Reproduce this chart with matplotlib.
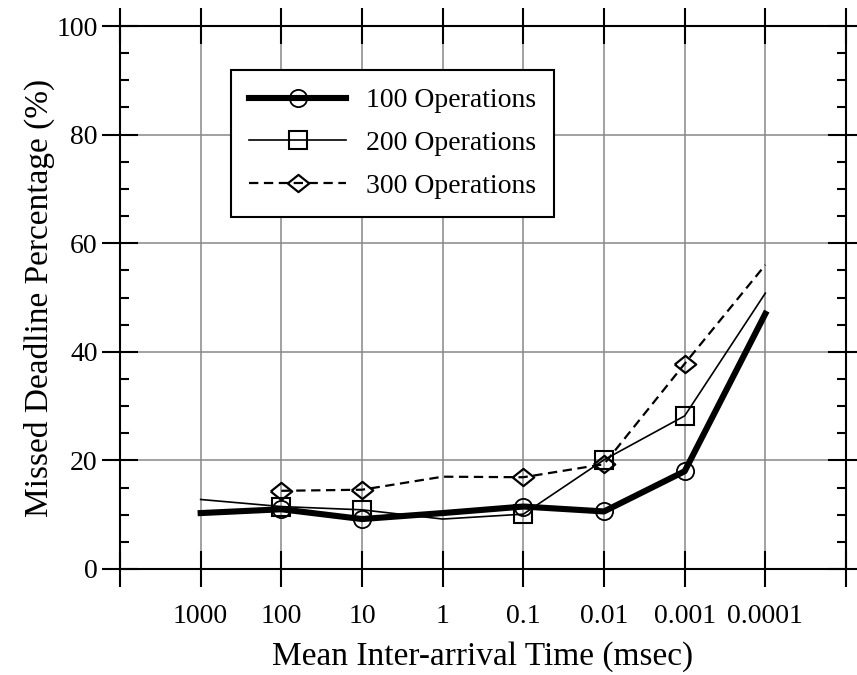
import matplotlib
matplotlib.use("Agg")
import matplotlib.pyplot as plt
import numpy as np

# mean inter-arrival time (msec), plotted on an evenly spaced category axis
arrival_times = ["1000", "100", "10", "1", "0.1", "0.01", "0.001", "0.0001"]

missed_100 = [10.3, 11.0, 9.2, 10.3, 11.5, 10.6, 18.0, 47.0]
missed_200 = [12.8, 11.5, 10.9, 9.2, 10.1, 20.1, 28.2, 50.8]
missed_300 = [np.nan, 14.4, 14.6, 17.0, 16.9, 19.3, 37.8, 56.0]

series_labels = ["100 Operations", "200 Operations", "300 Operations"]

# only these runs got a symbol on the original plot
marked = [1, 2, 4, 5, 6]

# wide, flat diamond
diamond = [(-1.0, 0.0), (0.0, 0.8), (1.0, 0.0), (0.0, -0.8), (-1.0, 0.0)]


def main():
    plt.rcParams["font.family"] = ["Liberation Serif", "DejaVu Serif"]
    fig = plt.figure(figsize=(8.57, 6.75), dpi=100)
    ax = fig.add_axes([120 / 857, 1 - 569 / 675, 726 / 857, 543 / 675])

    x = np.arange(len(arrival_times))
    ax.plot(x, missed_100, color="black", lw=4.4, marker="o", ms=12.4,
            mfc="none", mew=1.3, markevery=marked, label=series_labels[0])
    ax.plot(x, missed_200, color="black", lw=1.2, marker="s", ms=13.5,
            mfc="none", mew=1.5, markevery=marked, label=series_labels[1])
    ax.plot(x, missed_300, color="black", lw=1.6, dashes=(4.2, 2.5),
            marker=diamond, ms=15.5, mfc="none", mew=1.6,
            markevery=marked, label=series_labels[2])

    ax.set_xlim(-1, len(arrival_times))
    ax.set_ylim(0, 100)
    ax.set_xticks(np.arange(-1, len(arrival_times) + 1))
    ax.set_xticklabels([""] + arrival_times + [""])
    ax.set_yticks(np.arange(0, 101, 20))
    ax.set_yticks([v for v in range(5, 100, 5) if v % 20 != 0], minor=True)

    ax.grid(True, which="major", color="#878787", lw=1.1)
    for sp in ax.spines.values():
        sp.set_linewidth(1.5)

    ax.tick_params(which="major", direction="inout", length=26, width=1.5,
                   top=True, right=True, labelsize=20, color="black")
    ax.tick_params(axis="x", which="major", pad=12)
    ax.tick_params(axis="y", which="major", pad=3)
    ax.tick_params(which="minor", direction="in", length=6.5, width=1.5,
                   left=True, right=True)

    ax.set_xlabel("Mean Inter-arrival Time (msec)", fontsize=24, labelpad=9)
    ax.set_ylabel("Missed Deadline Percentage (%)", fontsize=24, labelpad=1)

    leg = ax.legend(loc="upper left", bbox_to_anchor=(0.153, 0.919),
                    borderaxespad=0, fontsize=20, fancybox=False,
                    framealpha=1, edgecolor="black", handlelength=3.5,
                    labelspacing=0.62, borderpad=0.65, handletextpad=0.7)
    leg.get_frame().set_linewidth(1.5)

    fig.savefig("out.png", dpi=100)


if __name__ == '__main__':
    main()
